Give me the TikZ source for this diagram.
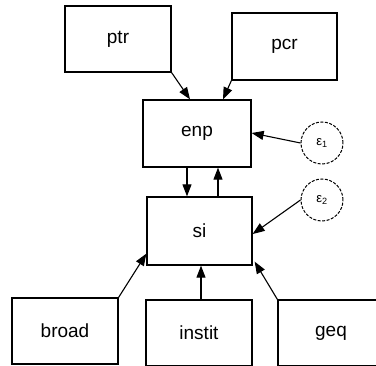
\documentclass[tikz,border=0pt]{standalone}
\usepackage{fontspec}
\setmainfont{Liberation Sans}
\usetikzlibrary{arrows.meta}
\begin{document}
\begin{tikzpicture}[x=1pt,y=-1pt,
  var/.style={draw, line width=1.3pt, minimum width=106pt, minimum height=66pt,
    inner sep=0pt, font=\fontsize{19}{19}\selectfont},
  err/.style={draw, dashed, dash pattern=on 3pt off 1.5pt, line width=1pt,
    circle, minimum size=42pt, inner sep=0pt, font=\fontsize{13}{13}\selectfont},
  path/.style={line width=1.1pt, -{Triangle[length=12pt,width=9pt]}}]
\useasboundingbox (0,0) rectangle (376,366);
\clip (0,0) rectangle (376,366);
% observed variables
\node[var] (ptr) at (118,39) {ptr};
\node[var, minimum width=105pt, minimum height=67pt] (pcr) at (284.5,46.5) {pcr};
\node[var, minimum width=108pt, minimum height=67pt] (enp) at (197,133.5) {enp};
\node[var, minimum width=105pt, minimum height=68pt] (si) at (199.5,231) {si};
\node[var] (broad) at (65,331) {broad};
\node[var] (instit) at (199,333) {instit};
\node[var] (geq) at (331,333) {geq};
% error terms
\node[err] (e1) at (322,143) {ε\textsubscript{1}};
\node[err] (e2) at (322,200) {ε\textsubscript{2}};
% paths (shifts are in page units: positive yshift goes up)
\draw[path] (ptr.south east) -- ([xshift=-7pt]enp.north);
\draw[path] (pcr.south west) -- ([xshift=26pt]enp.north);
\draw[path] (e1.west) -- ([yshift=0.5pt]enp.east);
\draw[path] (e2.west) -- ([yshift=-3pt]si.east);
\draw[path] ([xshift=-10pt]enp.south) -- ([xshift=-12.5pt]si.north);
\draw[path] ([xshift=18.5pt]si.north) -- ([xshift=21pt]enp.south);
\draw[path] (broad.north east) -- ([yshift=12pt]si.south west);
\draw[path] ([xshift=2pt]instit.north) -- ([xshift=1.5pt]si.south);
\draw[path] (geq.north west) -- ([yshift=4pt,xshift=2pt]si.south east);
\end{tikzpicture}
\end{document}
